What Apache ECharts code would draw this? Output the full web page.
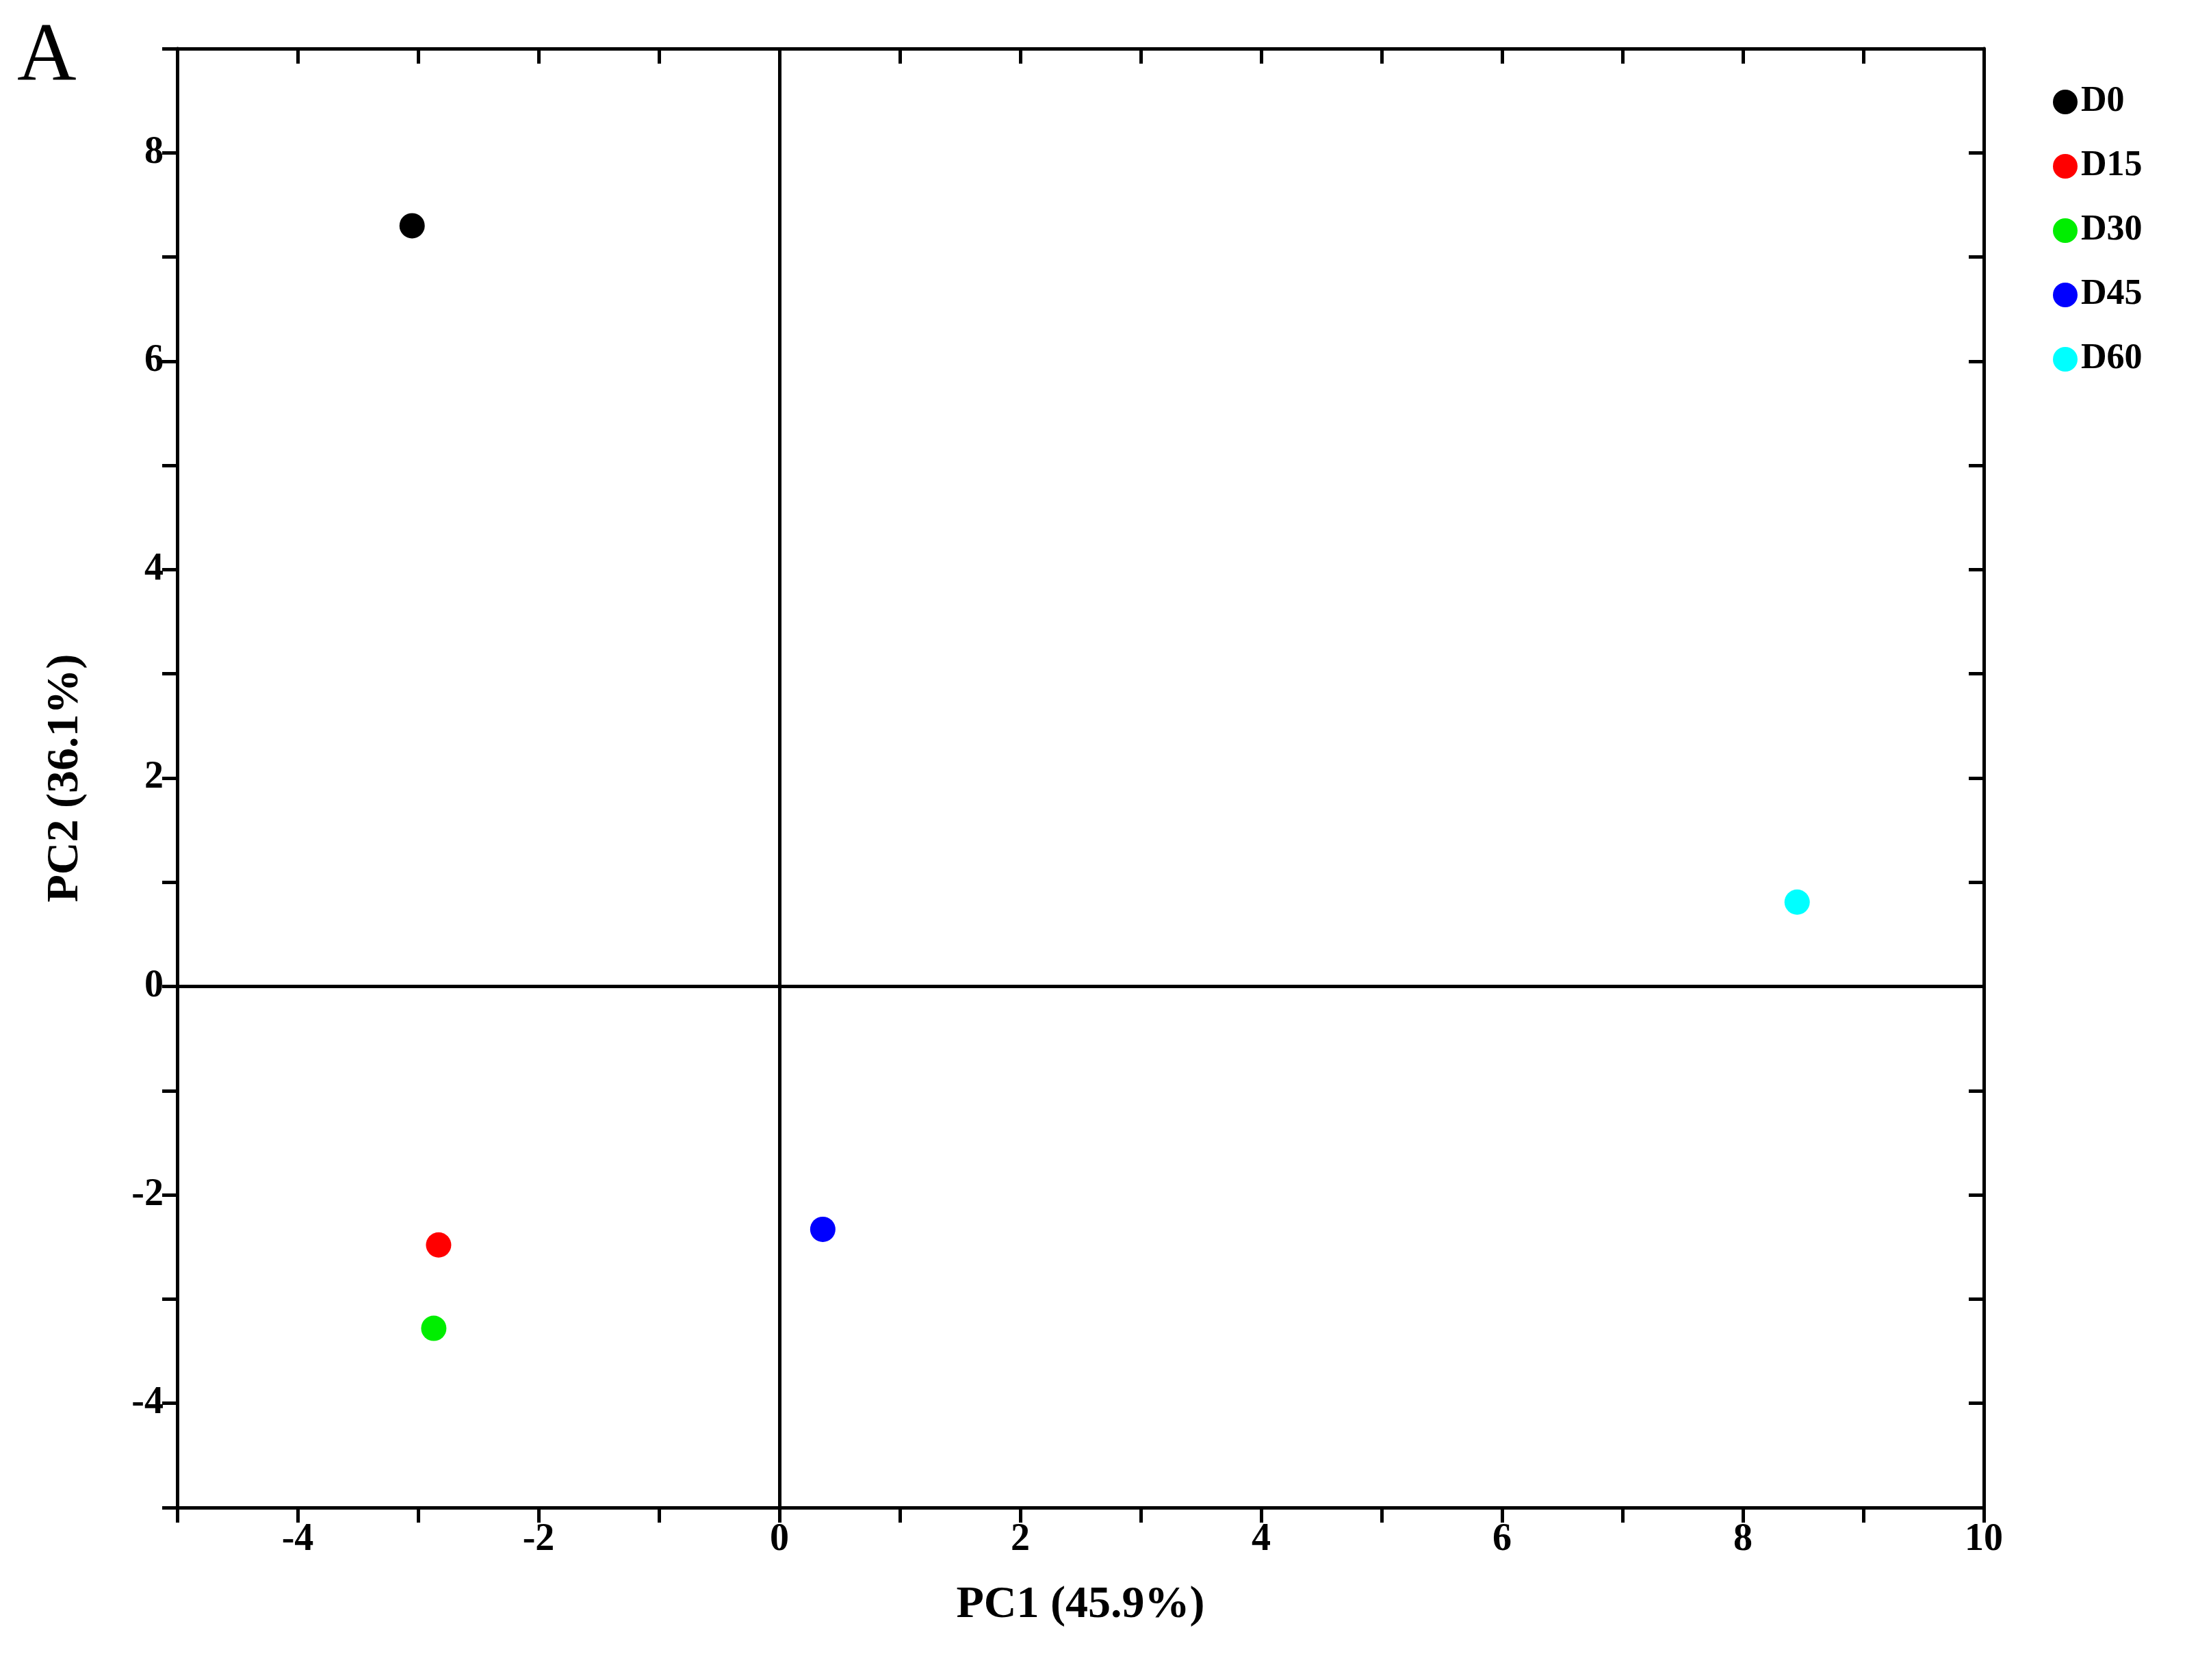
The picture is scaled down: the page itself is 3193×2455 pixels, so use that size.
<!DOCTYPE html>
<html><head><meta charset="utf-8">
<script src="https://cdn.jsdelivr.net/npm/echarts@6/dist/echarts.min.js"></script>
<style>html,body{margin:0;background:#fff}#c{width:3193px;height:2455px}</style>
</head><body><div id="c"></div>
<script>
// PCA scores
var groups = ['D0', 'D15', 'D30', 'D45', 'D60'];
var colors = ['#000000', '#ff0000', '#00ee00', '#0000ff', '#00ffff'];
var pc1 = [-3.05, -2.83, -2.87, 0.36, 8.45];
var pc2 = [7.30, -2.48, -3.28, -2.33, 0.81];

var chart = echarts.init(document.getElementById('c'));
var font = 'Liberation Serif';

function mkAxis(pos, name, min, max, inside, showLab, gap) {
	return {
		type: 'value', position: pos, min: min, max: max, interval: 1,
		name: name, nameLocation: 'middle', nameGap: gap,
		nameTextStyle: {fontFamily: font, fontWeight: 'bold', fontSize: 66, color: '#000'},
		axisLine: {show: true, onZero: false, lineStyle: {color: '#000', width: 5}},
		axisTick: {show: true, inside: inside, length: 22, lineStyle: {color: '#000', width: 5}},
		axisLabel: {
			show: showLab, margin: 20, showMinLabel: true, showMaxLabel: true,
			fontFamily: font, fontWeight: 'bold', fontSize: 56, color: '#000',
			formatter: function(v) { return (v % 2 == 0) ? String(v) : ''; }
		},
		splitLine: {show: false}
	};
}

var series = groups.map(function(g, i) {
	var s = {
		name: g, type: 'scatter', symbolSize: 37,
		itemStyle: {color: colors[i], opacity: 1},
		data: [[pc1[i], pc2[i]]]
	};
	if (i == 0) {
		s.markLine = {
			silent: true, symbol: 'none', label: {show: false},
			lineStyle: {color: '#000', width: 5, type: 'solid', opacity: 1},
			data: [{xAxis: 0}, {yAxis: 0}]
		};
	}
	return s;
});

chart.setOption({
	backgroundColor: '#fff',
	animation: false,
	title: {text: 'A', left: 20, top: 20, textStyle: {fontFamily: font, fontWeight: 'normal', fontSize: 120, color: '#000'}},
	legend: {
		orient: 'vertical', left: 2995, top: 118, itemGap: 42,
		icon: 'circle', itemWidth: 36, itemHeight: 36,
		itemStyle: {opacity: 1},
		textStyle: {fontFamily: font, fontWeight: 'bold', fontSize: 52, color: '#000'},
		data: groups
	},
	grid: {left: 259, right: 294, top: 71, bottom: 252},
	xAxis: [
		mkAxis('bottom', 'PC1 (45.9%)', -5, 10, false, true, 110),
		mkAxis('top', '', -5, 10, true, false, 0)
	],
	yAxis: [
		mkAxis('left', 'PC2 (36.1%)', -5, 9, false, true, 130),
		mkAxis('right', '', -5, 9, true, false, 0)
	],
	series: series
});
</script></body></html>
